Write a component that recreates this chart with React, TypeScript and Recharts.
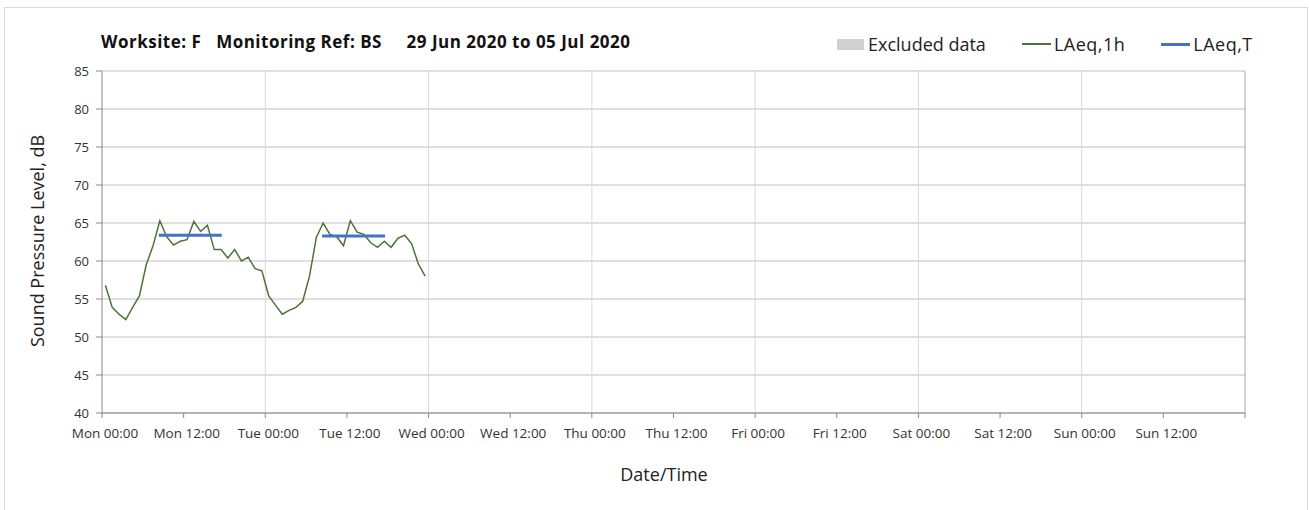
import { LineChart, Line, XAxis, YAxis, CartesianGrid, ReferenceLine } from 'recharts';

// hourly LAeq,1h values from Mon 00:00, plotted at the middle of each hour
const laeq1h = [
  56.8, 53.9, 53.0, 52.3, 53.9, 55.4, 59.5, 62.0, 65.3, 63.2, 62.1, 62.6,
  62.8, 65.2, 63.9, 64.7, 61.5, 61.5, 60.4, 61.5, 60.0, 60.5, 59.0, 58.7,
  55.4, 54.2, 53.0, 53.5, 53.9, 54.7, 58.0, 63.1, 65.0, 63.5, 63.2, 62.0,
  65.3, 63.8, 63.5, 62.4, 61.8, 62.6, 61.8, 63.0, 63.4, 62.3, 59.6, 58.0,
];

// LAeq,T periods: start hour, end hour, level
const periodStarts = [8.35, 32.35];
const periodEnds = [17.6, 41.6];
const periodLevels = [63.4, 63.3];

const xTicks = [0, 12, 24, 36, 48, 60, 72, 84, 96, 108, 120, 132, 144, 156, 168];
const xTickLabels = [
  'Mon 00:00', 'Mon 12:00', 'Tue 00:00', 'Tue 12:00', 'Wed 00:00', 'Wed 12:00',
  'Thu 00:00', 'Thu 12:00', 'Fri 00:00', 'Fri 12:00', 'Sat 00:00', 'Sat 12:00',
  'Sun 00:00', 'Sun 12:00', '',
];
const dayLines = [24, 48, 72, 96, 120, 144];
const yTicks = [40, 45, 50, 55, 60, 65, 70, 75, 80, 85];

const hourlyData = laeq1h.map((v, i) => ({ t: i + 0.5, v }));
const periods = periodStarts.map((s, i) => [
  { t: s, v: periodLevels[i] },
  { t: periodEnds[i], v: periodLevels[i] },
]);

const FONT = '"Open Sans", sans-serif';

function LegendBox() {
  const item = { display: 'flex', alignItems: 'center' } as const;
  return (
    <div style={{ position: 'absolute', left: 837, top: 32, display: 'flex', fontFamily: FONT, fontSize: 18, color: '#222', whiteSpace: 'nowrap' }}>
      <div style={{ ...item, marginRight: 36 }}>
        <span style={{ width: 27, height: 11, background: '#d0d0d0', marginRight: 4 }} />
        Excluded data
      </div>
      <div style={{ ...item, marginRight: 36 }}>
        <span style={{ width: 29, height: 1.5, background: '#4f7336', marginRight: 3 }} />
        <span style={{ letterSpacing: 0.5 }}>LAeq,1h</span>
      </div>
      <div style={item}>
        <span style={{ width: 29, height: 3, background: '#4472c4', marginRight: 3 }} />
        <span style={{ letterSpacing: 0.5 }}>LAeq,T</span>
      </div>
    </div>
  );
}

export default function App() {
  return (
    <div style={{ position: 'absolute', left: 0, top: 0, width: 1309, height: 510, background: '#fff', overflow: 'hidden' }}>
      <div style={{ position: 'absolute', left: 4, top: 7, width: 1302, height: 520, border: '1px solid #d9d9d9' }} />
      <div
        style={{
          position: 'absolute', left: 101, top: 30, fontFamily: FONT, fontWeight: 700, fontSize: 17,
          letterSpacing: 0.5, whiteSpace: 'pre', color: '#111',
        }}
      >
        {'Worksite: F   Monitoring Ref: BS     29 Jun 2020 to 05 Jul 2020'}
      </div>
      <LegendBox />
      <div
        style={{
          position: 'absolute', left: 37, top: 241, transform: 'translate(-50%, -50%) rotate(-90deg)',
          fontFamily: FONT, fontSize: 18, whiteSpace: 'nowrap', color: '#222',
        }}
      >
        Sound Pressure Level, dB
      </div>
      <div
        style={{
          position: 'absolute', left: 664, top: 474, transform: 'translate(-50%, -50%)',
          fontFamily: FONT, fontSize: 18, whiteSpace: 'nowrap', color: '#222',
        }}
      >
        Date/Time
      </div>
      <LineChart width={1309} height={510} margin={{ top: 71, right: 64, left: 0, bottom: 67 }}>
        <CartesianGrid vertical={false} stroke="#bfbfbf" horizontalValues={yTicks} />
        <CartesianGrid horizontal={false} stroke="#d9d9d9" verticalValues={dayLines} />
        <XAxis
          type="number"
          dataKey="t"
          domain={[0, 168]}
          ticks={xTicks}
          tickFormatter={(v: number) => xTickLabels[xTicks.indexOf(v)]}
          interval={0}
          height={30}
          tickSize={5}
          tickMargin={10}
          stroke="#898989"
          tick={{ fill: '#333', fontSize: 13.5, fontFamily: FONT, dx: 3 }}
          allowDataOverflow
        />
        <YAxis
          type="number"
          domain={[40, 85]}
          ticks={yTicks}
          interval={0}
          width={102}
          tickSize={6}
          tickMargin={7}
          stroke="#898989"
          tick={{ fill: '#333', fontSize: 13, fontFamily: FONT }}
        />
        <ReferenceLine x={168} stroke="#a6a6a6" />
        <Line
          data={hourlyData}
          dataKey="v"
          name="LAeq,1h"
          stroke="#4f7336"
          strokeWidth={1.5}
          dot={false}
          isAnimationActive={false}
        />
        {periods.map((p, i) => (
          <Line
            key={i}
            data={p}
            dataKey="v"
            name="LAeq,T"
            stroke="#4472c4"
            strokeWidth={3}
            dot={false}
            isAnimationActive={false}
          />
        ))}
      </LineChart>
    </div>
  );
}
